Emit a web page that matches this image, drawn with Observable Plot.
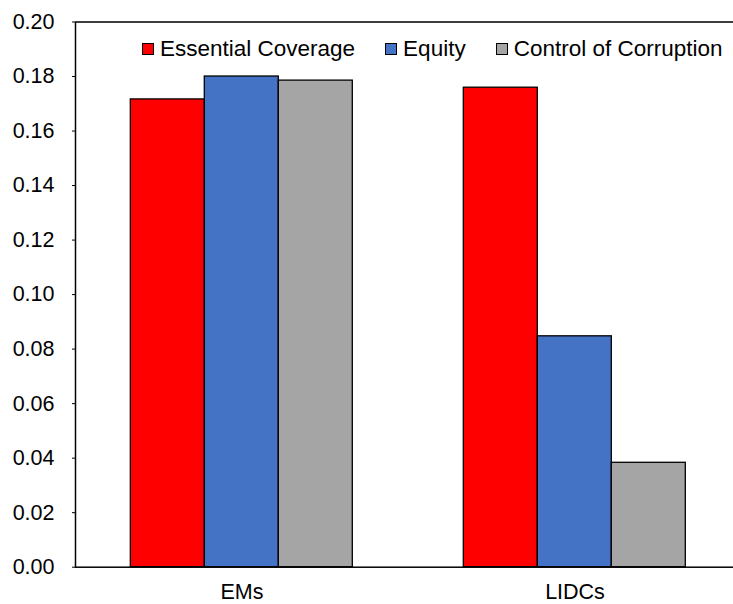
<!DOCTYPE html>
<html>
<head>
<meta charset="utf-8">
<script src="https://cdn.jsdelivr.net/npm/d3@7"></script>
<script src="https://cdn.jsdelivr.net/npm/@observablehq/plot@0.6"></script>
<style>
  body { margin: 0; background: #fff; font-family: "Liberation Sans", Arial, sans-serif; }
  #grafico { position: relative; width: 733px; height: 604px; overflow: hidden; }
  #leyenda { position: absolute; left: 142px; top: 38px; display: flex; align-items: center; white-space: nowrap; font-size: 22.5px; line-height: 22px; color: #000; }
  #leyenda .item { display: flex; align-items: center; margin-right: 30px; }
  #leyenda .cuadro { width: 10px; height: 10px; border: 1px solid #000; margin-right: 6px; }
</style>
</head>
<body>
<div id="grafico"><div id="leyenda"></div></div>
<script>
const categories = ["EMs", "LIDCs"];
const series = ["Essential Coverage", "Equity", "Control of Corruption"];
const colors = ["#FF0000", "#4472C4", "#A5A5A5"];
const essentialCoverage = [0.1716, 0.1759];
const equity = [0.1800, 0.0847];
const controlOfCorruption = [0.1785, 0.0383];
const yTicks = [0, 0.02, 0.04, 0.06, 0.08, 0.10, 0.12, 0.14, 0.16, 0.18, 0.20];

// tabla larga: una fila por barra
const valores = [essentialCoverage, equity, controlOfCorruption];
let ChartData = [];
categories.forEach((c, i) => {
  series.forEach((s, j) => {
    ChartData.push({cat: c, serie: s, value: valores[j][i]});
  });
});

let chart = Plot.plot({
  width: 733,
  height: 604,
  marginLeft: 74.7,
  marginRight: -7.7,
  marginTop: 21.5,
  marginBottom: 37.3,
  style: {
    fontSize: "21.5px",
    fontFamily: '"Liberation Sans", Arial, sans-serif',
    color: "#000",
    background: "#fff"
  },
  // cada categoría ocupa media área; las barras quedan centradas con huecos a los lados
  fx: {
    domain: categories,
    padding: 0,
    axis: "bottom",
    label: null,
    tickSize: 0,
    tickPadding: 17
  },
  x: { domain: series, paddingInner: 0, paddingOuter: 0.75, axis: null },
  y: {
    domain: [0, 0.2],
    ticks: yTicks,
    tickFormat: d3.format(".2f"),
    tickSize: 3,
    tickPadding: 18,
    label: null
  },
  color: { domain: series, range: colors },
  marks: [
    Plot.barY(ChartData, {
      fx: "cat",
      x: "serie",
      y: "value",
      fill: "serie",
      stroke: "#000",
      strokeWidth: 1.3
    }),
    Plot.frame({ stroke: "#000", strokeWidth: 1.5, facet: "super" })
  ]
});

document.getElementById("grafico").prepend(chart);

// leyenda dentro del área del gráfico
const leyenda = d3.select("#leyenda");
series.forEach((s, j) => {
  const item = leyenda.append("div").attr("class", "item");
  item.append("div").attr("class", "cuadro").style("background", colors[j]);
  item.append("span").text(s);
});
</script>
</body>
</html>
